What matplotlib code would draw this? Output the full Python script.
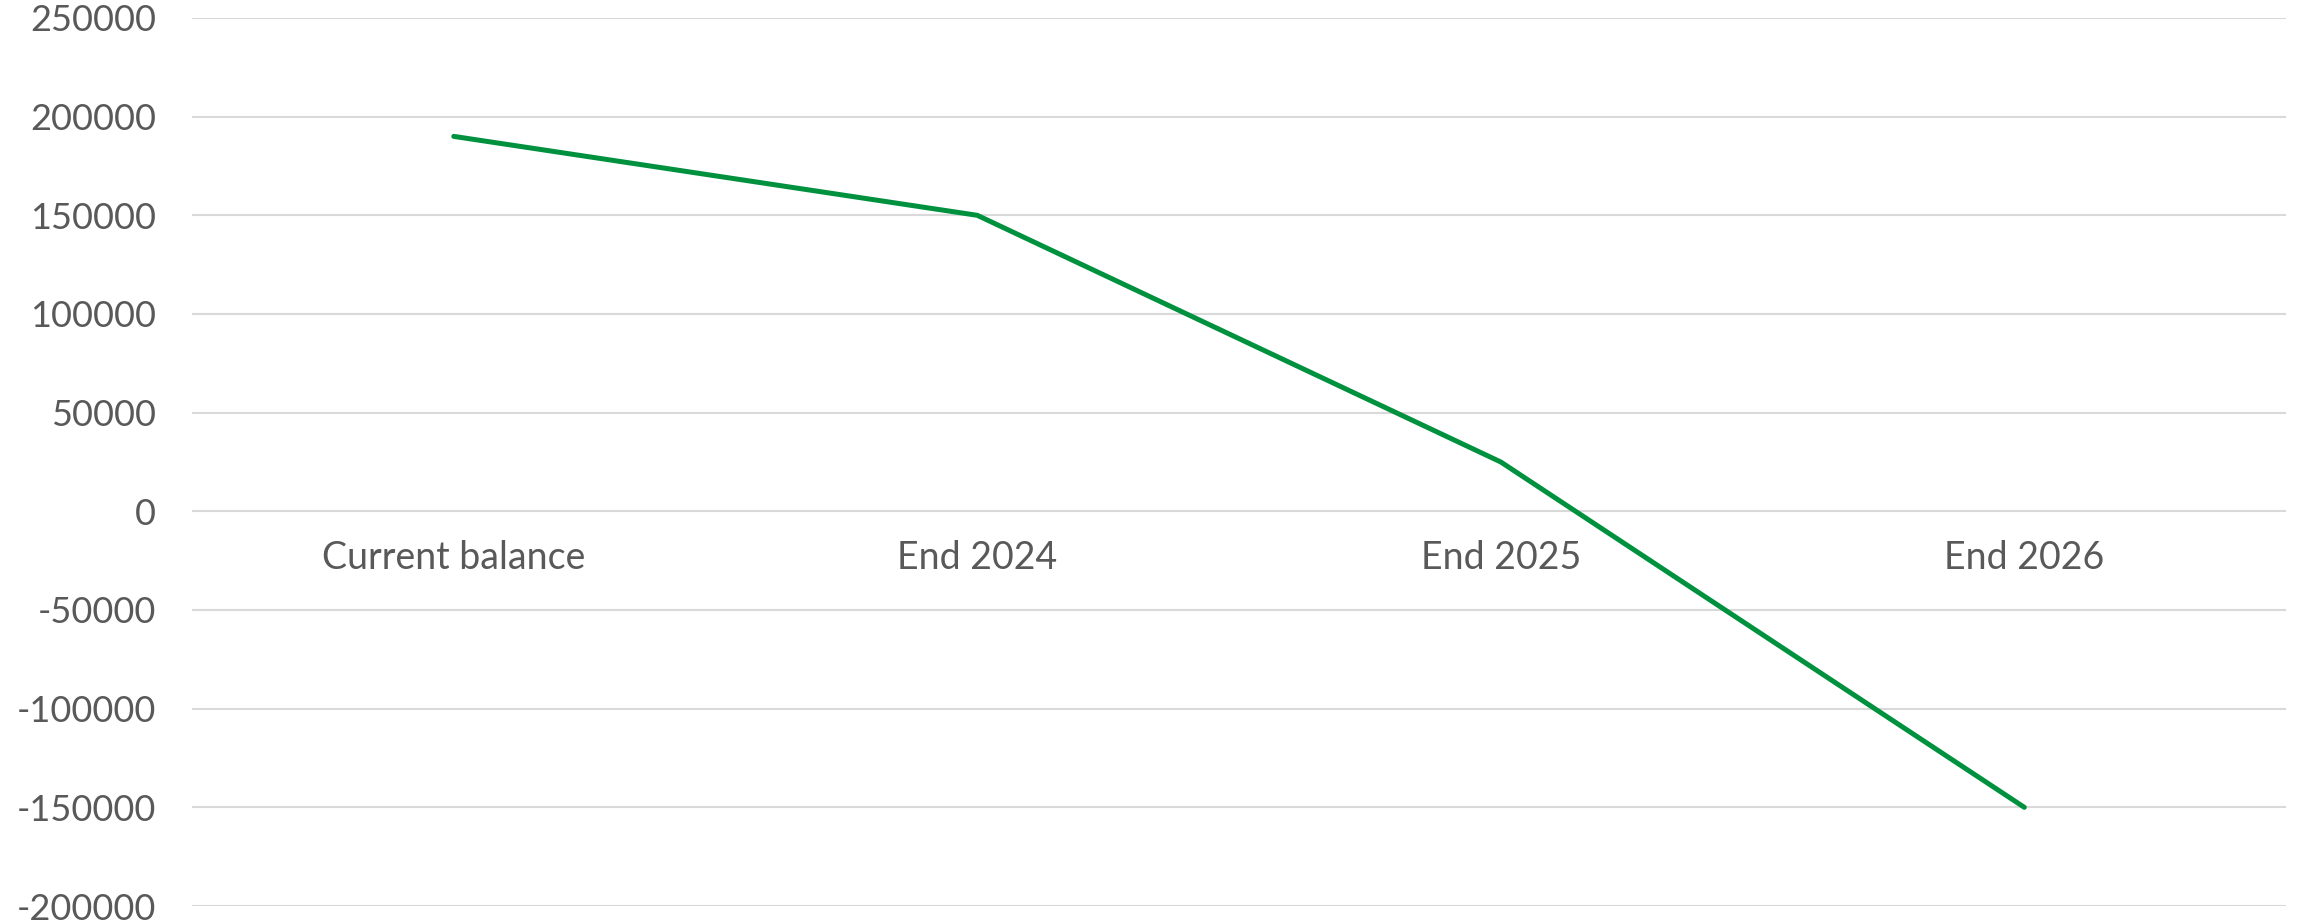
import matplotlib.pyplot as plt
from matplotlib.ticker import MultipleLocator

# data
categories = ['Current balance', 'End 2024', 'End 2025', 'End 2026']
balance = [190000, 150000, 25000, -150000]
y_min, y_max, y_step = -200000, 250000, 50000

plt.rcParams['font.family'] = ['Lato', 'DejaVu Sans']
plt.rcParams['axes.unicode_minus'] = False
text_col = '#595959'

fig = plt.figure(figsize=(23.05, 9.22), dpi=100)
ax = fig.add_axes([0.0833, 0.01735, 0.9085, 0.96315])

ax.plot(range(len(categories)), balance, color='#00913F', linewidth=3.6,
        solid_capstyle='round', solid_joinstyle='round', zorder=3)

ax.set_xlim(-0.5, len(categories) - 0.5)
ax.set_ylim(y_min, y_max)
ax.yaxis.set_major_locator(MultipleLocator(y_step))
ax.grid(axis='y', color='#D9D9D9', linewidth=1.5)
ax.set_axisbelow(True)

ax.set_xticks(range(len(categories)))
ax.set_xticklabels(categories)

for s in ['top', 'right', 'left']:
    ax.spines[s].set_visible(False)
ax.spines['bottom'].set_position(('data', 0))
ax.spines['bottom'].set_visible(False)

ax.tick_params(axis='x', length=0, pad=21, labelsize=27, labelcolor=text_col)
ax.tick_params(axis='y', length=0, pad=26, labelsize=26, labelcolor=text_col)

fig.savefig('out.png', dpi=100)
